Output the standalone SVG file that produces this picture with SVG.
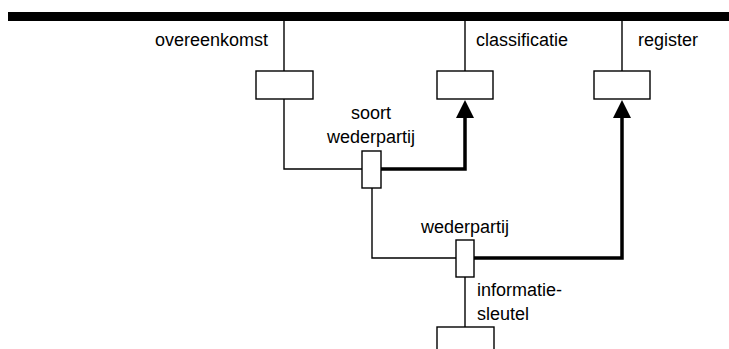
<svg xmlns="http://www.w3.org/2000/svg" width="729" height="349" viewBox="0 0 729 349">
  <style>
    .box { fill: #ffffff; stroke: #000000; stroke-width: 1.4; }
    .thin { fill: none; stroke: #000000; stroke-width: 1.4; }
    .thick { fill: none; stroke: #000000; stroke-width: 3.5; }
    .lbl { font-family: "Liberation Sans", Arial, sans-serif; font-size: 18px; fill: #000000; }
    .mid { text-anchor: middle; }
    .end { text-anchor: end; }
  </style>
  <defs>
    <marker id="arrow" markerUnits="userSpaceOnUse" markerWidth="20" markerHeight="20" viewBox="0 -10 20 20" refX="0" refY="0" orient="auto">
      <path d="M0,-9 L18,0 L0,9 Z" fill="#000000"/>
    </marker>
  </defs>
  <g id="bar">
    <rect x="8" y="12" width="721" height="9" fill="#000000"/>
  </g>
  <g id="connectors">
    <path class="thin" d="M284 21 V71"/>
    <path class="thin" d="M465 21 V71"/>
    <path class="thin" d="M622 21 V71"/>
    <path class="thin" d="M284 99 V169 H362"/>
    <path class="thick" d="M381 169 H465 V118" marker-end="url(#arrow)"/>
    <path class="thin" d="M372 188 V258 H456"/>
    <path class="thick" d="M474 258 H622 V118" marker-end="url(#arrow)"/>
    <path class="thin" d="M465 277 V327"/>
  </g>
  <g id="overeenkomst">
    <rect class="box" x="256" y="71" width="57" height="28"/>
    <text class="lbl end" x="268" y="46">overeenkomst</text>
  </g>
  <g id="classificatie">
    <rect class="box" x="437" y="71" width="56" height="28"/>
    <text class="lbl" x="476" y="46">classificatie</text>
  </g>
  <g id="register">
    <rect class="box" x="594" y="71" width="56" height="28"/>
    <text class="lbl" x="638" y="46">register</text>
  </g>
  <g id="soort-wederpartij">
    <rect class="box" x="362" y="151" width="19" height="37"/>
    <text class="lbl mid" x="371" y="119">soort</text>
    <text class="lbl mid" x="371" y="143">wederpartij</text>
  </g>
  <g id="wederpartij">
    <rect class="box" x="456" y="240" width="18" height="37"/>
    <text class="lbl mid" x="465" y="233">wederpartij</text>
  </g>
  <g id="informatiesleutel">
    <rect class="box" x="437" y="327" width="57" height="30"/>
    <text class="lbl" x="477" y="296">informatie-</text>
    <text class="lbl" x="477" y="320">sleutel</text>
  </g>
</svg>
